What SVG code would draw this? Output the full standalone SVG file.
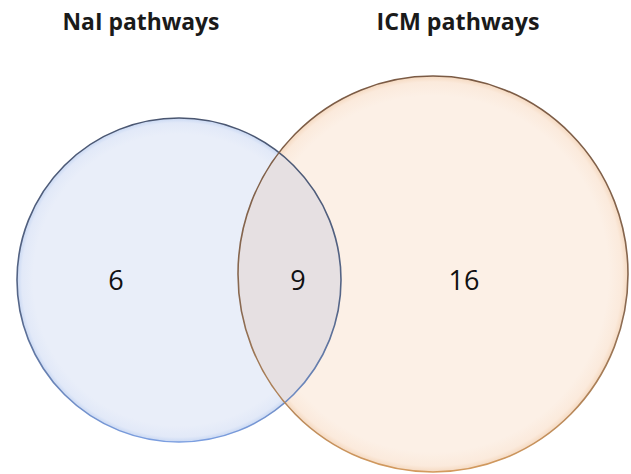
<svg xmlns="http://www.w3.org/2000/svg" width="631" height="474" viewBox="0 0 631 474">
<style>
.title{font-family:"Open Sans","Liberation Sans",sans-serif;font-weight:bold;font-size:23px;fill:#1a1a1a}
.num{font-family:"Open Sans","Liberation Sans",sans-serif;font-size:27px;fill:#111}
</style>
<defs>
<radialGradient id="gBlue" cx="0.5" cy="0.5" r="0.5">
<stop offset="0.9" stop-color="#e9eef9"/>
<stop offset="0.97" stop-color="#e2e9f8"/>
<stop offset="1" stop-color="#c9d8f3"/>
</radialGradient>
<radialGradient id="gOrange" cx="0.5" cy="0.5" r="0.5">
<stop offset="0.9" stop-color="#fcf0e6"/>
<stop offset="0.97" stop-color="#fbeadc"/>
<stop offset="1" stop-color="#f5d9c0"/>
</radialGradient>
<linearGradient id="sBlue" x1="0" y1="0" x2="0" y2="1">
<stop offset="0" stop-color="#4a5670"/>
<stop offset="0.6" stop-color="#56678a"/>
<stop offset="1" stop-color="#7b9ee0"/>
</linearGradient>
<linearGradient id="sOrange" x1="0" y1="0" x2="0" y2="1">
<stop offset="0" stop-color="#7a5a44"/>
<stop offset="0.6" stop-color="#8a6a52"/>
<stop offset="1" stop-color="#d39a5e"/>
</linearGradient>
<clipPath id="clipLeft">
<circle cx="179" cy="280" r="162"/>
</clipPath>
</defs>
<g id="set-nai">
<circle cx="179" cy="280" r="162" fill="url(#gBlue)"/>
</g>
<g id="set-icm">
<ellipse cx="433" cy="274" rx="195" ry="198" fill="url(#gOrange)"/>
</g>
<g id="overlap">
<ellipse cx="433" cy="274" rx="195" ry="198" fill="#e6e0e2" clip-path="url(#clipLeft)"/>
</g>
<g id="outlines" fill="none" stroke-width="1.6">
<circle cx="179" cy="280" r="162" stroke="url(#sBlue)"/>
<ellipse cx="433" cy="274" rx="195" ry="198" stroke="url(#sOrange)"/>
</g>
<g id="labels">
<text class="title" x="141" y="30" text-anchor="middle" textLength="157" lengthAdjust="spacingAndGlyphs">NaI pathways</text>
<text class="title" x="458" y="30" text-anchor="middle" textLength="163" lengthAdjust="spacingAndGlyphs">ICM pathways</text>
<text class="num" x="116" y="290" text-anchor="middle">6</text>
<text class="num" x="298" y="290" text-anchor="middle">9</text>
<text class="num" x="464" y="290" text-anchor="middle">16</text>
</g>
</svg>
